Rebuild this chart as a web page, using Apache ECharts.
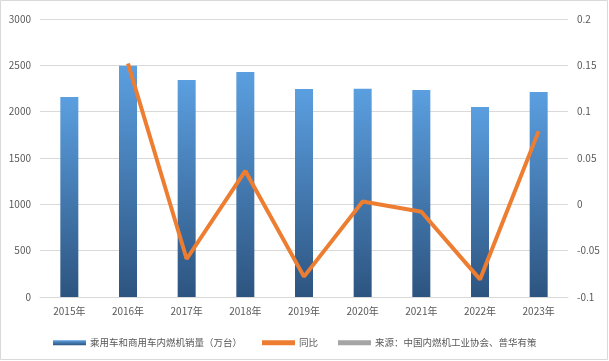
<!DOCTYPE html>
<html><head><meta charset="utf-8">
<script src="https://cdn.jsdelivr.net/npm/echarts@6/dist/echarts.min.js"></script>
<style>html,body{margin:0;padding:0;background:#fff}#c{width:609px;height:361px}</style>
</head><body><div id="c"></div>
<script>
const categories = ['2015年','2016年','2017年','2018年','2019年','2020年','2021年','2022年','2023年'];
const salesValues = [2158, 2496, 2342, 2428, 2245, 2247, 2234, 2050, 2212];
const yoyValues = [null, 0.152, -0.059, 0.036, -0.078, 0.003, -0.008, -0.081, 0.079];
const seriesNames = ['乘用车和商用车内燃机销量（万台）', '同比', '来源：中国内燃机工业协会、普华有策'];

const font = 'Noto Sans CJK SC';
const chart = echarts.init(document.getElementById('c'));
chart.setOption({
  animation: false,
  backgroundColor: '#fff',
  textStyle: {fontFamily: font},
  grid: {left: 40, right: 41, top: 19, bottom: 64},
  legend: {
    left: 48, top: 333, itemWidth: 33, itemHeight: 5, itemGap: 20, icon: 'rect',
    textStyle: {color: '#595959', fontSize: 9.5, fontFamily: font, padding: [0, 0, 0, -1]},
    data: seriesNames
  },
  xAxis: {
    type: 'category', data: categories, boundaryGap: true,
    axisLine: {lineStyle: {color: '#d9d9d9'}}, axisTick: {show: false},
    axisLabel: {color: '#595959', fontSize: 10, margin: 9, fontFamily: font}
  },
  yAxis: [{
    type: 'value', min: 0, max: 3000, interval: 500,
    axisLabel: {color: '#595959', fontSize: 10, margin: 9, fontFamily: font, formatter: v => String(v)},
    splitLine: {lineStyle: {color: '#d9d9d9'}}, axisLine: {show: false}, axisTick: {show: false}
  }, {
    type: 'value', min: -0.1, max: 0.2, interval: 0.05,
    axisLabel: {color: '#595959', fontSize: 10, margin: 9, fontFamily: font,
      formatter: v => String(Math.round(v * 100) / 100)},
    splitLine: {show: false}, axisLine: {show: false}, axisTick: {show: false}
  }],
  series: [{
    name: seriesNames[0], type: 'bar', data: salesValues, barWidth: 18,
    itemStyle: {color: new echarts.graphic.LinearGradient(0, 0, 0, 1, [
      {offset: 0, color: '#5b9fe0'}, {offset: 1, color: '#2d5480'}])}
  }, {
    name: seriesNames[1], type: 'line', yAxisIndex: 1, data: yoyValues,
    symbol: 'none', lineStyle: {color: '#ed7d31', width: 4}, itemStyle: {color: '#ed7d31'}
  }, {
    name: seriesNames[2], type: 'line', yAxisIndex: 1, data: [],
    symbol: 'none', lineStyle: {color: '#a5a5a5', width: 4}, itemStyle: {color: '#a5a5a5'}
  }],
  graphic: [{
    type: 'rect', shape: {x: 0.5, y: 0.5, width: 607, height: 359},
    style: {fill: 'none', stroke: '#d9d9d9', lineWidth: 1}, silent: true
  }]
});
</script></body></html>
